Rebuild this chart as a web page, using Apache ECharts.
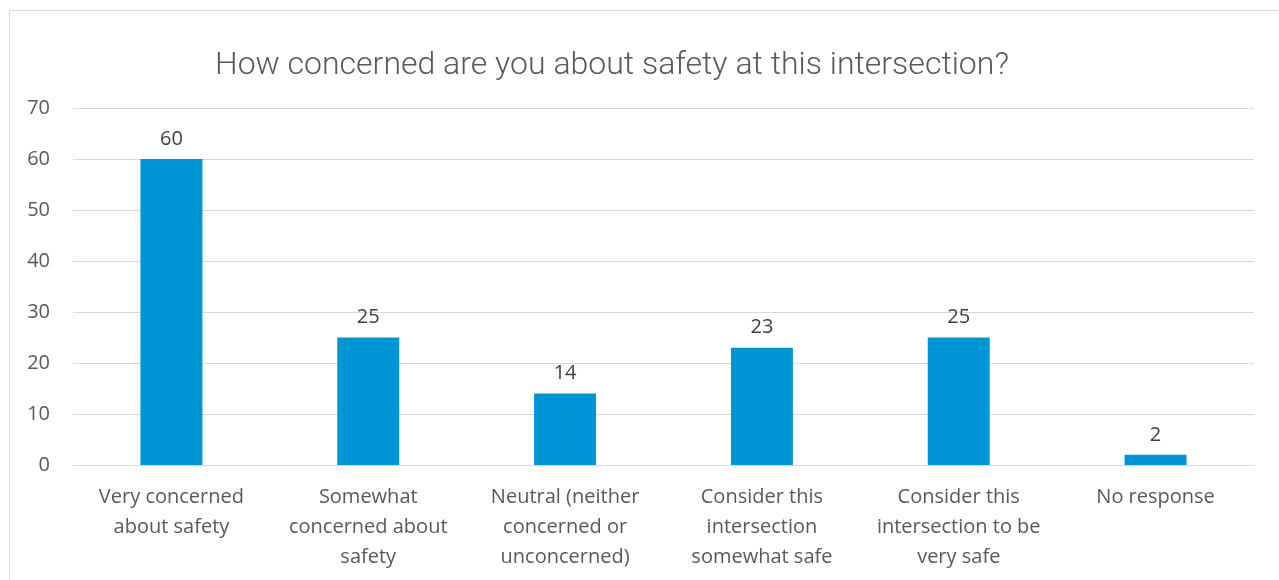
<!DOCTYPE html>
<html>
<head>
<meta charset="utf-8">
<script src="https://cdn.jsdelivr.net/npm/echarts@6/dist/echarts.min.js"></script>
<style>
  html, body { margin: 0; padding: 0; background: #fff; }
  #chart { width: 1279px; height: 580px; }
</style>
</head>
<body>
<div id="chart"></div>
<script>
const categories = [
  "Very concerned\nabout safety",
  "Somewhat\nconcerned about\nsafety",
  "Neutral (neither\nconcerned or\nunconcerned)",
  "Consider this\nintersection\nsomewhat safe",
  "Consider this\nintersection to be\nvery safe",
  "No response"
];
const responses = [60, 25, 14, 23, 25, 2];

const chart = echarts.init(document.getElementById("chart"));
const textColor = "#595959";

chart.setOption({
  animation: false,
  title: {
    text: "How concerned are you about safety at this intersection?",
    left: 210,
    top: 45,
    textStyle: {
      fontFamily: "Roboto",
      fontWeight: 300,
      fontSize: 32,
      color: "#595959"
    }
  },
  graphic: [
    {
      type: "rect",
      shape: { x: 9.5, y: 10.5, width: 1300, height: 600 },
      style: { fill: "none", stroke: "#d9d9d9", lineWidth: 1 },
      silent: true
    }
  ],
  grid: {
    left: 73,
    right: 25,
    top: 108,
    bottom: 115
  },
  xAxis: {
    type: "category",
    data: categories,
    axisLine: { lineStyle: { color: "#d9d9d9", width: 1 } },
    axisTick: { show: false },
    axisLabel: {
      color: textColor,
      fontFamily: "Open Sans",
      fontSize: 20,
      lineHeight: 30,
      margin: 17,
      interval: 0
    }
  },
  yAxis: {
    type: "value",
    min: 0,
    max: 70,
    interval: 10,
    axisLine: { show: false },
    axisTick: { show: false },
    splitLine: { lineStyle: { color: "#d9d9d9", width: 1 } },
    axisLabel: {
      color: textColor,
      fontFamily: "Open Sans",
      fontSize: 20,
      margin: 23
    }
  },
  series: [
    {
      type: "bar",
      data: responses,
      barWidth: 62,
      itemStyle: { color: "#0096D6" },
      label: {
        show: true,
        position: "top",
        distance: 10,
        color: "#404040",
        fontFamily: "Open Sans",
        fontSize: 20
      }
    }
  ]
});
</script>
</body>
</html>
